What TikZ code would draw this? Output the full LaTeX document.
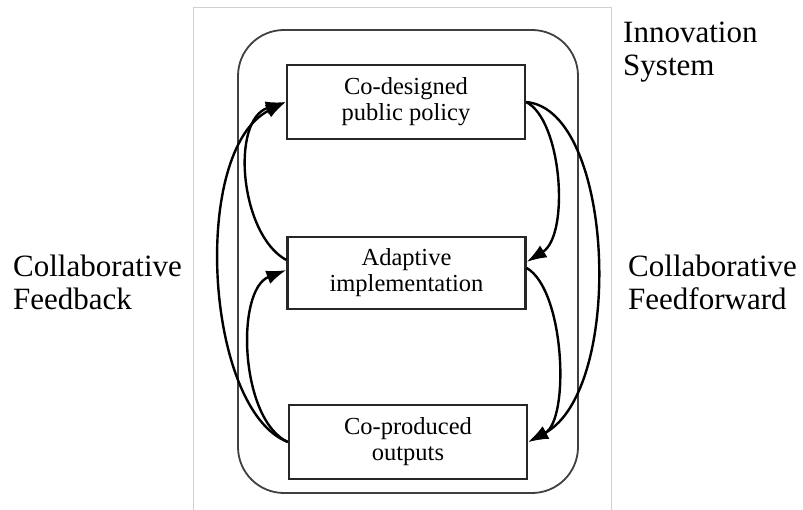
\documentclass[tikz,border=0pt]{standalone}
\usepackage{fontspec}
\setmainfont{Liberation Serif}
\usetikzlibrary{arrows.meta,calc}
\begin{document}
\begin{tikzpicture}[x=1pt,y=-1pt,
  stagebox/.style={draw=black!85,line width=2.3pt,minimum width=238pt,
    minimum height=74pt,inner sep=0pt,align=center,
    font=\fontsize{24.5}{26}\selectfont},
  sidelabel/.style={inner sep=0pt,align=left,anchor=north west,
    font=\fontsize{31}{33}\selectfont},
  flow/.style={line width=2.4pt,-{Latex[length=20pt,width=14pt]}}]
\useasboundingbox (0,0) rectangle (803,510);
% light frame around the figure panel
\draw[black!18,line width=1pt] (193,512) -- (193,8) -- (611,8) -- (611,512);
% innovation system boundary
\node[draw=black!75,line width=1.8pt,rounded corners=46pt,minimum width=340pt,
  minimum height=463pt,inner sep=0pt] (sys) at (408,261.5) {};
% the three stages
\node[stagebox] (b1) at (406,102) {Co-designed\\public policy};
\node[stagebox,minimum height=72pt] (b2) at (406.5,273) {Adaptive\\implementation};
\node[stagebox] (b3) at (408,442) {Co-produced\\outputs};
% labels
\node[sidelabel] (lsys) at (623,22) {Innovation\\System};
\node[sidelabel] (lfb) at (13,255) {Collaborative\\Feedback};
\node[sidelabel] (lff) at (628,255) {Collaborative\\Feedforward};
% anchor points on the boxes
\coordinate (b2wa) at ($(b2.west)+(0,-13)$);
\coordinate (b2wb) at ($(b2.west)+(0,-3)$);
\coordinate (b2ea) at ($(b2.east)+(0,-11)$);
\coordinate (b2eb) at ($(b2.east)+(0,-5)$);
% feedback loops (left)
\draw[flow] (b3.west) .. controls (205,410) and (190,150) .. (b1.west);
\draw[flow] (b2wa) .. controls (240,235) and (230,120) .. (b1.west);
\draw[flow] (b3.west) .. controls (240,420) and (235,290) .. (b2wb);
% feedforward loops (right)
\draw[flow] (b1.east) .. controls (562,120) and (570,235) .. (b2ea);
\draw[flow] (b1.east) .. controls (615,110) and (625,390) .. (b3.east);
\draw[flow] (b2eb) .. controls (565,290) and (570,420) .. (b3.east);
\end{tikzpicture}
\end{document}
